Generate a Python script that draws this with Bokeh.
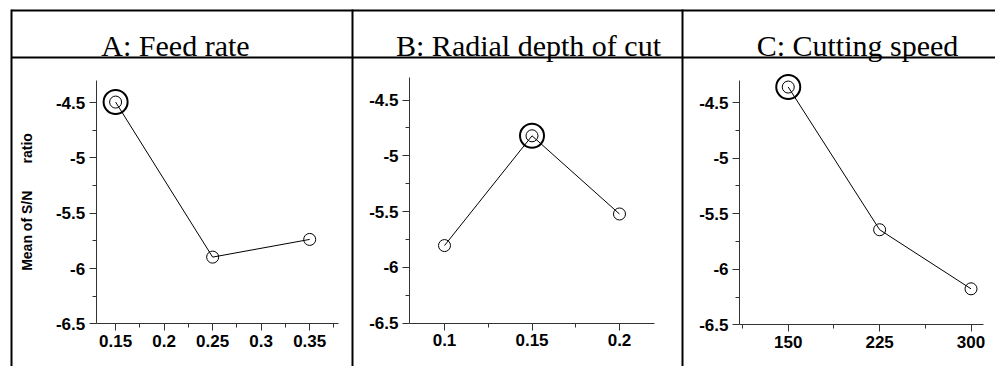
from bokeh.plotting import figure
from bokeh.models import Range1d, LinearAxis, FixedTicker
from bokeh.core.properties import value
from bokeh.embed import file_html
from bokeh.resources import INLINE

# ---------------- data ----------------
titles = ["A: Feed rate", "B: Radial depth of cut", "C: Cutting speed"]

a_levels = [0.15, 0.25, 0.35]
a_sn = [-4.495, -5.897, -5.737]

b_levels = [0.10, 0.15, 0.20]
b_sn = [-5.804, -4.820, -5.521]

c_levels = [150, 225, 300]
c_sn = [-4.359, -5.644, -6.176]

a_ticks = [0.15, 0.2, 0.25, 0.3, 0.35]
a_tick_labels = ["0.15", "0.2", "0.25", "0.3", "0.35"]
a_minor = [0.175, 0.225, 0.275, 0.325, 0.375]

b_ticks = [0.1, 0.15, 0.2]
b_tick_labels = ["0.1", "0.15", "0.2"]
b_minor = [0.125, 0.175]

c_ticks = [150, 225, 300]
c_tick_labels = ["150", "225", "300"]
c_minor = [112.5, 187.5, 262.5]

y_ticks = [-6.5, -6, -5.5, -5, -4.5]
y_tick_labels = ["-6.5", "-6", "-5.5", "-5", "-4.5"]
y_minor = [-6.25, -5.75, -5.25, -4.75]
y_label = "Mean of S/N\u00a0\u00a0\u00a0\u00a0\u00a0\u00a0 ratio"

# ---------------- layout (page pixel coordinates) ----------------
PAGE_X0, PAGE_Y0 = 0, 0
W, H = 995, 366
PX1, PY1 = PAGE_X0 + W, PAGE_Y0 + H

p = figure(width=W, height=H, output_backend="svg", toolbar_location=None,
           x_axis_type=None, y_axis_type=None,
           x_range=Range1d(PAGE_X0, PX1), y_range=Range1d(PY1, PAGE_Y0),
           min_border=0, outline_line_color=None,
           background_fill_color="white", border_fill_color="white")

# table frame lines
TOP, HDR, LEFT = 10, 57, 11
DIVS = [352, 682]
p.segment(x0=[LEFT, LEFT], y0=[TOP, HDR], x1=[PX1 + 10, PX1 + 10], y1=[TOP, HDR],
          line_color="black", line_width=2)
p.segment(x0=[LEFT] + DIVS, y0=[TOP - 1] * 3, x1=[LEFT] + DIVS, y1=[PY1 + 10] * 3,
          line_color="black", line_width=2)

# titles
p.text(x=[175, 528, 857], y=[45, 45, 45], text=titles,
       text_font=value("Liberation Serif"), text_font_size="30px",
       text_align="center", text_baseline="alphabetic", text_color="black")

# panels: data extents & pixel boxes
panels = [
    dict(name="A", xs=a_levels, ys=a_sn, ticks=a_ticks, labels=a_tick_labels, minor=a_minor,
         xlo=0.13, xhi=0.38, px0=95.7, px1=338.3, pyb=323.3, pyt=80.0, label=True),
    dict(name="B", xs=b_levels, ys=b_sn, ticks=b_ticks, labels=b_tick_labels, minor=b_minor,
         xlo=0.08, xhi=0.22, px0=409.0, px1=654.0, pyb=322.7, pyt=77.3, label=False),
    dict(name="C", xs=c_levels, ys=c_sn, ticks=c_ticks, labels=c_tick_labels, minor=c_minor,
         xlo=110, xhi=310, px0=739.0, px1=982.7, pyb=324.3, pyt=80.0, label=False),
]
YLO, YHI = -6.5, -4.3

AXIS_COLOR = "#333333"

for pn in panels:
    n = pn["name"]
    kx = (pn["px1"] - pn["px0"]) / (pn["xhi"] - pn["xlo"])
    ky = (pn["pyb"] - pn["pyt"]) / (YHI - YLO)
    p.extra_x_ranges[n] = Range1d(pn["xlo"] + (PAGE_X0 - pn["px0"]) / kx,
                                  pn["xlo"] + (PX1 - pn["px0"]) / kx)
    p.extra_y_ranges[n] = Range1d(YLO - (PY1 - pn["pyb"]) / ky,
                                  YLO + (pn["pyb"] - PAGE_Y0) / ky)

    xa = LinearAxis(x_range_name=n, y_range_name=n, fixed_location=YLO,
                    bounds=(pn["xlo"], pn["xhi"]),
                    ticker=FixedTicker(ticks=pn["ticks"], minor_ticks=pn["minor"]),
                    major_label_overrides={t: l for t, l in zip(pn["ticks"], pn["labels"])})
    ya = LinearAxis(x_range_name=n, y_range_name=n, fixed_location=pn["xlo"],
                    bounds=(YLO, YHI),
                    ticker=FixedTicker(ticks=y_ticks, minor_ticks=y_minor),
                    major_label_overrides={t: l for t, l in zip(y_ticks, y_tick_labels)})
    for ax in (xa, ya):
        ax.axis_line_color = AXIS_COLOR
        ax.axis_line_width = 1
        ax.major_tick_line_color = AXIS_COLOR
        ax.minor_tick_line_color = AXIS_COLOR
        ax.major_tick_out = 7
        ax.major_tick_in = 0
        ax.minor_tick_out = 4
        ax.minor_tick_in = 0
        ax.major_label_text_font = "Liberation Sans"
        ax.major_label_text_font_style = "bold"
        ax.major_label_text_font_size = "17px"
        ax.major_label_text_color = "black"
        ax.major_label_standoff = 4
    if pn["label"]:
        ya.axis_label = y_label
        ya.axis_label_text_font = "Liberation Sans"
        ya.axis_label_text_font_style = "bold"
        ya.axis_label_text_font_size = "14px"
        ya.axis_label_text_color = "black"
        ya.axis_label_standoff = 18
    p.add_layout(xa, "below")
    p.add_layout(ya, "left")

    p.line(pn["xs"], pn["ys"], x_range_name=n, y_range_name=n,
           line_color="black", line_width=1)
    p.scatter(pn["xs"], pn["ys"], x_range_name=n, y_range_name=n, marker="circle",
              size=12, fill_color=None, line_color="black", line_width=1)
    best = max(range(len(pn["ys"])), key=lambda i: pn["ys"][i])
    p.scatter([pn["xs"][best]], [pn["ys"][best]], x_range_name=n, y_range_name=n,
              marker="circle", size=24, fill_color=None, line_color="black", line_width=2)

open("out.html", "w").write(file_html(p, INLINE))
